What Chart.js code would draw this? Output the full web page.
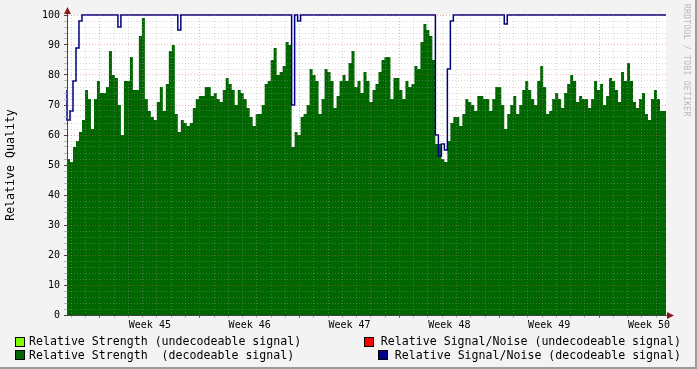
<!DOCTYPE html>
<html>
<head>
<meta charset="utf-8">
<script src="https://cdn.jsdelivr.net/npm/chart.js@4.4.1/dist/chart.umd.min.js"></script>
<style>
  html, body { margin: 0; padding: 0; }
  body {
    width: 697px; height: 369px; position: relative; overflow: hidden;
    background: #f3f3f3; font-family: "DejaVu Sans Mono", monospace; color: #000;
  }
  #frame { position: absolute; left: 0; top: 0; width: 695px; height: 367px;
    border-right: 2px solid #9c9c9c; border-bottom: 2px solid #9c9c9c; pointer-events: none; }
  canvas { position: absolute; left: 0; top: 0; }
  .leg { position: absolute; font-size: 11.6px; line-height: 14px; white-space: pre; }
  .sw { position: absolute; width: 8px; height: 8px; border: 1px solid #000; }
  #stamp { position: absolute; left: 682px; top: 4px; font-size: 8px; color: #b8b8b8;
    writing-mode: vertical-rl; letter-spacing: 0.3px; white-space: pre; }
</style>
</head>
<body>
<canvas id="qualityChart" width="697" height="369"></canvas>
<div id="frame"></div>

<div class="sw" style="left:15px;top:337px;background:#80ff00"></div>
<div class="leg" style="left:29px;top:334px">Relative Strength (undecodeable signal)</div>
<div class="sw" style="left:15px;top:350px;background:#006600"></div>
<div class="leg" style="left:29px;top:348px">Relative Strength  (decodeable signal)</div>
<div class="sw" style="left:364px;top:337px;background:#ff0000"></div>
<div class="leg" style="right:16px;top:334px">Relative Signal/Noise (undecodeable signal)</div>
<div class="sw" style="left:378px;top:350px;background:#000090"></div>
<div class="leg" style="right:16px;top:348px">Relative Signal/Noise (decodeable signal)</div>
<div id="stamp">RRDTOOL / TOBI OETIKER</div>

<script>
// time span of the graph in days, and where week 45 begins
const spanDays = 42;
const week45Start = 2.31;
const firstWeek = 45;

// relative strength (decodeable signal), one value per ~5 hours
const strength = [
  60, 52, 51, 56, 58, 61, 65, 75, 72, 62,
  72, 78, 74, 74, 76, 88, 80, 79, 70, 60,
  78, 78, 86, 75, 75, 93, 99, 72, 68, 66,
  65, 71, 76, 68, 77, 88, 90, 67, 61, 65,
  64, 63, 64, 69, 72, 73, 73, 76, 76, 73,
  74, 72, 71, 75, 79, 77, 75, 70, 75, 74,
  72, 69, 66, 63, 67, 67, 70, 77, 78, 85,
  89, 80, 81, 83, 91, 90, 56, 61, 60, 66,
  67, 70, 82, 80, 78, 67, 72, 82, 81, 78,
  69, 73, 78, 80, 78, 84, 88, 76, 78, 74,
  81, 78, 71, 75, 77, 81, 85, 86, 86, 72,
  79, 79, 75, 72, 78, 76, 77, 83, 82, 91,
  97, 95, 93, 85, 57, 57, 52, 51, 58, 64,
  66, 66, 63, 67, 72, 71, 70, 68, 73, 73,
  72, 72, 68, 72, 76, 76, 70, 62, 67, 70,
  73, 67, 70, 75, 78, 75, 72, 70, 78, 83,
  76, 67, 68, 72, 74, 72, 69, 74, 77, 80,
  78, 71, 73, 72, 72, 69, 72, 78, 75, 77,
  70, 73, 79, 78, 75, 71, 81, 78, 84, 78,
  71, 69, 72, 74, 67, 65, 72, 75, 72, 68
];

// relative signal/noise (decodeable signal)
const signalNoise = [
  75, 65, 68, 78, 89, 98, 100, 100, 100, 100,
  100, 100, 100, 100, 100, 100, 100, 100, 96, 100,
  100, 100, 100, 100, 100, 100, 100, 100, 100, 100,
  100, 100, 100, 100, 100, 100, 100, 100, 95, 100,
  100, 100, 100, 100, 100, 100, 100, 100, 100, 100,
  100, 100, 100, 100, 100, 100, 100, 100, 100, 100,
  100, 100, 100, 100, 100, 100, 100, 100, 100, 100,
  100, 100, 100, 100, 100, 100, 70, 100, 98, 100,
  100, 100, 100, 100, 100, 100, 100, 100, 100, 100,
  100, 100, 100, 100, 100, 100, 100, 100, 100, 100,
  100, 100, 100, 100, 100, 100, 100, 100, 100, 100,
  100, 100, 100, 100, 100, 100, 100, 100, 100, 100,
  100, 100, 100, 100, 60, 53, 57, 55, 82, 98,
  100, 100, 100, 100, 100, 100, 100, 100, 100, 100,
  100, 100, 100, 100, 100, 100, 100, 97, 100, 100,
  100, 100, 100, 100, 100, 100, 100, 100, 100, 100,
  100, 100, 100, 100, 100, 100, 100, 100, 100, 100,
  100, 100, 100, 100, 100, 100, 100, 100, 100, 100,
  100, 100, 100, 100, 100, 100, 100, 100, 100, 100,
  100, 100, 100, 100, 100, 100, 100, 100, 100, 100
];

const yTicks = [0, 10, 20, 30, 40, 50, 60, 70, 80, 90, 100];
const yMinorStep = 2;

const step = spanDays / strength.length;
function toPoints(arr) {
  const pts = arr.map((v, i) => ({ x: i * step, y: v }));
  pts.push({ x: spanDays, y: arr[arr.length - 1] });
  return pts;
}

const minorGrid = "rgba(160,160,160,0.4)";
const majorGrid = "rgba(230,80,80,0.45)";
const monoFont = { family: "DejaVu Sans Mono", size: 10 };

// half-day index relative to the start of week 45
const halfIdx = v => Math.round((v - week45Start) * 2);

const plotDecor = {
  id: "plotDecor",
  beforeDraw(chart) {
    const { ctx, chartArea: a } = chart;
    ctx.save();
    ctx.fillStyle = "#ffffff";
    ctx.fillRect(a.left, a.top, a.right - a.left, a.bottom - a.top);
    ctx.restore();
  },
  afterDraw(chart) {
    const { ctx, chartArea: a } = chart;
    ctx.save();
    ctx.strokeStyle = "#444";
    ctx.lineWidth = 1;
    ctx.beginPath();
    ctx.moveTo(a.left + 0.5, a.top);
    ctx.lineTo(a.left + 0.5, a.top - 4);
    ctx.moveTo(a.right, a.bottom + 0.5);
    ctx.lineTo(a.right + 3, a.bottom + 0.5);
    ctx.stroke();
    ctx.fillStyle = "#8b1a1a";
    ctx.beginPath();
    ctx.moveTo(a.left + 0.5, a.top - 8);
    ctx.lineTo(a.left - 3, a.top - 1);
    ctx.lineTo(a.left + 4, a.top - 1);
    ctx.closePath();
    ctx.fill();
    ctx.beginPath();
    ctx.moveTo(a.right + 8, a.bottom + 0.5);
    ctx.lineTo(a.right + 1, a.bottom - 3);
    ctx.lineTo(a.right + 1, a.bottom + 4);
    ctx.closePath();
    ctx.fill();
    ctx.restore();
  }
};

new Chart(document.getElementById("qualityChart"), {
  type: "line",
  data: {
    datasets: [
      {
        label: "Relative Signal/Noise (decodeable signal)",
        data: toPoints(signalNoise),
        borderColor: "#000080",
        borderWidth: 1.5,
        stepped: "after",
        pointRadius: 0,
        fill: false,
        clip: 3,
        order: 0
      },
      {
        label: "Relative Strength  (decodeable signal)",
        data: toPoints(strength),
        borderColor: "#006600",
        borderWidth: 0,
        backgroundColor: "#006600",
        stepped: "after",
        pointRadius: 0,
        fill: "origin",
        order: 1
      }
    ]
  },
  options: {
    responsive: false,
    animation: false,
    events: [],
    layout: { padding: { top: 15, right: 31, bottom: 34, left: 0 } },
    plugins: { legend: { display: false }, tooltip: { enabled: false } },
    scales: {
      x: {
        type: "linear",
        min: 0,
        max: spanDays,
        afterFit: s => { s.height = 20; },
        afterBuildTicks: s => {
          const t = [];
          for (let k = -6; ; k++) {
            const v = week45Start + k * 0.5;
            if (v > spanDays) break;
            if (v > 0) t.push({ value: v });
          }
          s.ticks = t;
        },
        ticks: {
          autoSkip: false, maxRotation: 0, minRotation: 0, padding: 1,
          color: "#000", font: monoFont,
          callback: v => {
            const k = halfIdx(v);
            return ((k % 14) + 14) % 14 === 7 ? "Week " + (firstWeek + (k - 7) / 14) : "";
          }
        },
        grid: {
          z: 1,
          tickLength: 3,
          lineWidth: 1,
          color: c => {
            const k = halfIdx(c.tick.value);
            if (k % 2 !== 0) return "rgba(0,0,0,0)";
            return k % 14 === 0 ? majorGrid : minorGrid;
          },
          tickColor: c => {
            const k = halfIdx(c.tick.value);
            if (k % 2 !== 0) return "rgba(0,0,0,0)";
            return k % 14 === 0 ? "#d04040" : "#bbbbbb";
          }
        },
        border: { z: 2, color: "#444", width: 1, dash: [1, 2] }
      },
      y: {
        min: 0,
        max: 100,
        afterFit: s => { s.width = 67; },
        afterBuildTicks: s => {
          const t = [];
          for (let v = 0; v <= 100; v += yMinorStep) t.push({ value: v });
          s.ticks = t;
        },
        ticks: {
          autoSkip: false, padding: 4, color: "#000", font: monoFont,
          callback: v => (yTicks.includes(v) ? String(v) : "")
        },
        grid: {
          z: 1,
          tickLength: 3,
          color: c => (yTicks.includes(c.tick.value) ? majorGrid : minorGrid),
          tickColor: c => (yTicks.includes(c.tick.value) ? "#444" : "#bbbbbb")
        },
        border: { z: 2, color: "#444", width: 1, dash: [1, 2] },
        title: {
          display: true, text: "Relative Quality", color: "#000",
          font: { family: "DejaVu Sans Mono", size: 11.6 }, padding: { top: 4, bottom: 4 }
        }
      }
    }
  },
  plugins: [plotDecor]
});
</script>
</body>
</html>
